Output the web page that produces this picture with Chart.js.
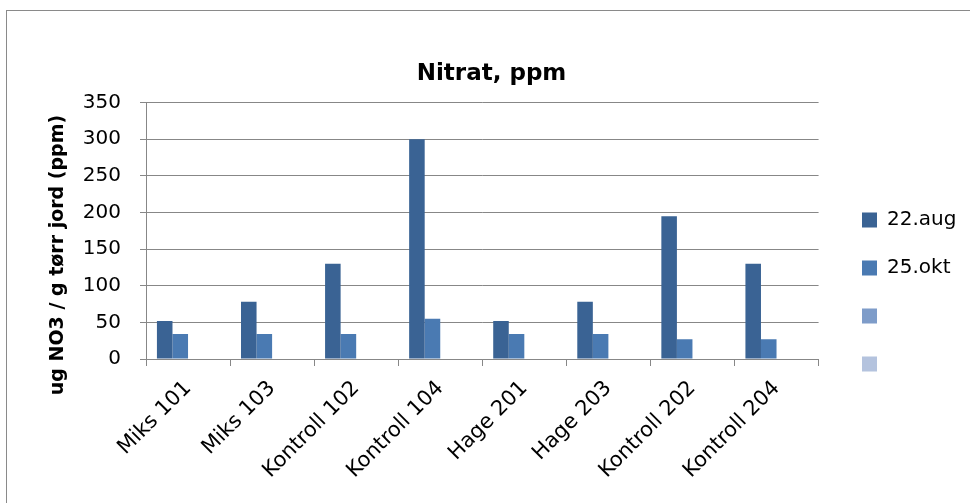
<!DOCTYPE html>
<html><head><meta charset="utf-8">
<script src="https://cdn.jsdelivr.net/npm/chart.js@4.4.1/dist/chart.umd.min.js"></script>
<style>
html,body{margin:0;padding:0;background:#fff;overflow:hidden;}
#frame{position:absolute;left:6px;top:10px;width:1000px;height:600px;border:1px solid #8a8a8a;box-sizing:border-box;}
#c{position:absolute;left:0;top:0;}
</style></head><body>
<div id="frame"></div>
<canvas id="c" width="970" height="503"></canvas>
<script>
const categories = ['Miks 101','Miks 103','Kontroll 102','Kontroll 104','Hage 201','Hage 203','Kontroll 202','Kontroll 204'];
const seriesNames = ['22.aug','25.okt','',''];
const aug22 = [52, 78, 130, 300, 52, 78, 195, 130];
const okt25 = [34, 34, 34, 55, 34, 34, 27, 27];
const series3 = [null, null, null, null, null, null, null, null];
const series4 = [null, null, null, null, null, null, null, null];
const seriesColors = ['#3A6394','#4A7AB2','#7E9CC9','#B4C3DE'];
const yTicks = [0, 50, 100, 150, 200, 250, 300, 350];
const chartTitle = 'Nitrat, ppm';
const yTitle = 'ug NO3 / g tørr jord (ppm)';

const FONT = '"DejaVu Sans", sans-serif';
Chart.defaults.color = '#000';
Chart.defaults.font.family = FONT;

const yTitlePlugin = {
  id: 'yTitlePlugin',
  afterDraw(chart) {
    const ctx = chart.ctx;
    ctx.save();
    ctx.translate(58, 255);
    ctx.rotate(-Math.PI / 2);
    ctx.font = 'bold 19px ' + FONT;
    ctx.fillStyle = '#000';
    ctx.textAlign = 'center';
    ctx.textBaseline = 'middle';
    ctx.fillText(yTitle, 0, 0);
    ctx.restore();
  }
};
const legendPlace = {
  id: 'legendPlace',
  afterLayout(chart) {
    const lg = chart.legend;
    const w = lg.right - lg.left;
    lg.left = 834; lg.right = 834 + w;
    const h = lg.bottom - lg.top;
    lg.top = 182; lg.bottom = 182 + h;
  }
};

const datasets = [aug22, okt25, series3, series4].map((d, i) => ({
  label: seriesNames[i],
  data: d,
  backgroundColor: seriesColors[i],
  borderWidth: 0,
  categoryPercentage: 0.74,
  barPercentage: 1.0
}));

new Chart(document.getElementById('c'), {
  type: 'bar',
  data: { labels: categories, datasets },
  plugins: [yTitlePlugin, legendPlace],
  options: {
    responsive: false,
    animation: false,
    layout: { padding: { left: 32, right: 19, top: 0, bottom: 0 } },
    plugins: {
      title: {
        display: true, text: chartTitle,
        font: { size: 23, weight: 'bold', family: FONT },
        color: '#000',
        padding: { top: 60, bottom: 15 }
      },
      legend: {
        position: 'right', align: 'start',
        labels: { boxWidth: 15, boxHeight: 15, padding: 28, font: { size: 20, family: FONT }, color: '#000' }
      },
      tooltip: { enabled: false }
    },
    scales: {
      x: {
        grid: { display: true, drawOnChartArea: false, drawTicks: true, tickLength: 7, color: '#878787', offset: true },
        border: { display: true, color: '#878787', width: 1 },
        ticks: { minRotation: 45, maxRotation: 45, autoSkip: false, font: { size: 21, family: FONT }, color: '#000', padding: 10, labelOffset: 0 },
        afterFit(scale) { scale.height = 144; }
      },
      y: {
        min: 0, max: 350,
        afterBuildTicks(scale) { scale.ticks = yTicks.map(v => ({ value: v })); },
        grid: { color: '#878787', tickLength: 6, lineWidth: 1 },
        border: { display: true, color: '#878787', width: 1 },
        ticks: { font: { size: 20, family: FONT }, color: '#000', padding: 19 },
        afterFit(scale) { scale.width = 114; }
      }
    }
  }
});
</script>
</body></html>
